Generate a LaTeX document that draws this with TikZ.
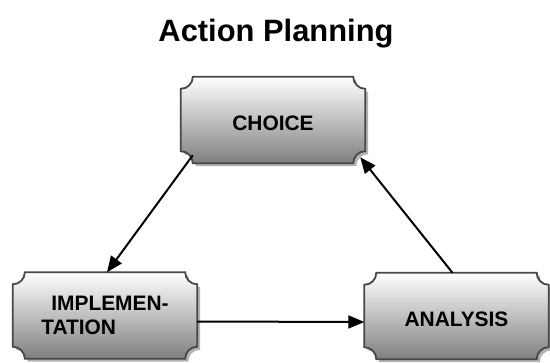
\documentclass[tikz,border=0pt]{standalone}
\usepackage{fontspec}
\setmainfont{Liberation Sans}
\usetikzlibrary{arrows.meta,shadows}
\pgfdeclarelayer{background}
\pgfsetlayers{background,main}

\newcommand{\plaque}[1]{%
  \begin{pgfonlayer}{background}
    \path[plaque] ([xshift=12bp]#1.north west) -- ([xshift=-12bp]#1.north east)
      arc[start angle=180,end angle=270,radius=12bp] -- ([yshift=12bp]#1.south east)
      arc[start angle=90,end angle=180,radius=12bp] -- ([xshift=12bp]#1.south west)
      arc[start angle=0,end angle=90,radius=12bp] -- ([yshift=-12bp]#1.north west)
      arc[start angle=270,end angle=360,radius=12bp] -- cycle;
  \end{pgfonlayer}}

\begin{document}
\begin{tikzpicture}[x=1bp,y=1bp,
    stage/.style={minimum width=184bp,minimum height=86bp,inner sep=0pt,
      font=\fontsize{21}{24}\selectfont\bfseries,align=left},
    plaque/.style={draw=black!72,line width=1.8bp,top color=white,bottom color=black!50,
      drop shadow={shadow xshift=3bp,shadow yshift=-3bp,fill=black!30,opacity=1}},
    link/.style={line width=2bp,-{Triangle[length=16bp,width=13bp]}}]
        \useasboundingbox (0,0) rectangle (550,362);

        \node[anchor=base,font=\fontsize{31}{36}\selectfont\bfseries] (title) at (276,321) {Action Planning};

        \node[stage,text height=22bp] (choice) at (273,242) {CHOICE};
        \node[stage] (impl) at (105,46.5) {\hspace{10bp}IMPLEMEN-\\TATION};
        \node[stage,text height=21bp] (analysis) at (456.5,46) {ANALYSIS};

        \plaque{choice}
        \plaque{impl}
        \plaque{analysis}

        \draw[link] ([shift={(12bp,8bp)}]choice.south west) -- ([xshift=2bp]impl.north);
        \draw[link] ([yshift=-6bp]impl.east) -- ([yshift=-6bp]analysis.west);
        \draw[link] ([xshift=-4bp]analysis.north) -- ([shift={(-5bp,6bp)}]choice.south east);
      \end{tikzpicture}
\end{document}
